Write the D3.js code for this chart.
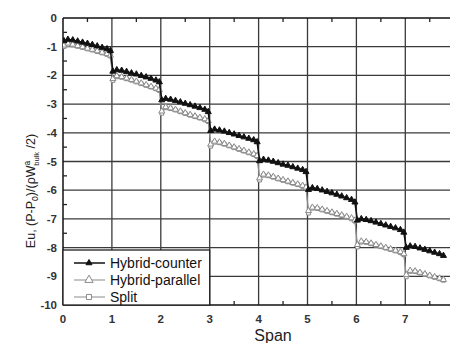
<!DOCTYPE html>
<html><head><meta charset="utf-8">
<script src="https://cdn.jsdelivr.net/npm/d3@7"></script>
<style>body{margin:0;background:#fff}svg{display:block}</style>
</head><body><svg id="c" width="450" height="343"></svg>
<script>
// Span positions (x) for each sampled point
const spanX = [
 0.02,0.1,0.2,0.3,0.4,0.5,0.6,0.7,0.8,0.9,0.97,
 1.02,1.1,1.2,1.3,1.4,1.5,1.6,1.7,1.8,1.9,1.97,
 2.02,2.1,2.2,2.3,2.4,2.5,2.6,2.7,2.8,2.9,2.97,
 3.02,3.1,3.2,3.3,3.4,3.5,3.6,3.7,3.8,3.9,3.97,
 4.02,4.1,4.2,4.3,4.4,4.5,4.6,4.7,4.8,4.9,4.97,
 5.02,5.1,5.2,5.3,5.4,5.5,5.6,5.7,5.8,5.9,5.97,
 6.02,6.1,6.2,6.3,6.4,6.5,6.6,6.7,6.8,6.9,6.97,
 7.02,7.1,7.2,7.3,7.4,7.5,7.6,7.7,7.78
];
const hybridCounter = [
 -0.80,-0.75,-0.77,-0.81,-0.85,-0.89,-0.93,-0.98,-1.03,-1.08,-1.14,
 -1.86,-1.81,-1.83,-1.87,-1.92,-1.96,-2.01,-2.06,-2.11,-2.17,-2.23,
 -2.86,-2.81,-2.84,-2.88,-2.93,-2.98,-3.03,-3.08,-3.13,-3.19,-3.27,
 -3.93,-3.88,-3.91,-3.95,-4.00,-4.05,-4.10,-4.15,-4.20,-4.25,-4.32,
 -4.98,-4.93,-4.96,-5.00,-5.05,-5.10,-5.14,-5.19,-5.24,-5.29,-5.36,
 -5.98,-5.92,-5.95,-6.00,-6.05,-6.10,-6.15,-6.21,-6.27,-6.33,-6.42,
 -7.05,-7.00,-7.03,-7.07,-7.12,-7.17,-7.22,-7.27,-7.32,-7.38,-7.47,
 -8.00,-7.95,-7.97,-8.02,-8.07,-8.12,-8.17,-8.22,-8.28,-8.32
];
const hybridParallel = [
 -0.95,-0.88,-0.92,-0.97,-1.01,-1.06,-1.10,-1.15,-1.20,-1.25,-1.30,
 -2.12,-2.02,-2.05,-2.10,-2.15,-2.21,-2.27,-2.33,-2.39,-2.45,-2.50,
 -3.25,-3.10,-3.14,-3.19,-3.25,-3.31,-3.37,-3.42,-3.47,-3.52,-3.58,
 -4.40,-4.30,-4.33,-4.38,-4.44,-4.50,-4.56,-4.62,-4.68,-4.74,-4.80,
 -5.58,-5.45,-5.48,-5.53,-5.59,-5.64,-5.69,-5.74,-5.79,-5.84,-5.90,
 -6.72,-6.60,-6.62,-6.67,-6.72,-6.77,-6.82,-6.87,-6.92,-6.97,-7.05,
 -7.90,-7.78,-7.80,-7.85,-7.90,-7.95,-8.00,-8.05,-8.10,-8.15,-8.22,
 -8.95,-8.80,-8.82,-8.87,-8.92,-8.97,-9.02,-9.07,-9.12,-9.17
];
const split = [
 -1.00,-0.92,-0.94,-0.99,-1.03,-1.08,-1.12,-1.17,-1.22,-1.27,-1.33,
 -2.18,-2.05,-2.07,-2.12,-2.17,-2.23,-2.29,-2.35,-2.41,-2.47,-2.53,
 -3.32,-3.13,-3.16,-3.21,-3.27,-3.33,-3.39,-3.44,-3.49,-3.55,-3.61,
 -4.47,-4.33,-4.35,-4.40,-4.46,-4.52,-4.58,-4.64,-4.70,-4.76,-4.83,
 -5.65,-5.48,-5.50,-5.55,-5.61,-5.66,-5.71,-5.76,-5.81,-5.87,-5.93,
 -6.80,-6.63,-6.64,-6.69,-6.74,-6.79,-6.84,-6.89,-6.94,-7.00,-7.08,
 -7.98,-7.81,-7.82,-7.87,-7.92,-7.97,-8.02,-8.07,-8.12,-8.18,-8.25,
 -9.02,-8.83,-8.84,-8.89,-8.94,-8.99,-9.04,-9.09,-9.14,-9.19
];
const xTicks = [0,1,2,3,4,5,6,7];
const yTicks = [0,-1,-2,-3,-4,-5,-6,-7,-8,-9,-10];
const seriesNames = ["Hybrid-counter","Hybrid-parallel","Split"];

const svg = d3.select("#c");
const L = 63, T = 18, B = 305;
const x = d3.scaleLinear().domain([0, 8]).range([L, L + 8 * 48.9]);
const y = d3.scaleLinear().domain([-10, 0]).range([B, T]);
const font = "'Liberation Sans', Arial, sans-serif";

// grid
const g = svg.append("g");
g.selectAll("line.vg").data(xTicks.slice(1).concat([8])).join("line")
  .attr("x1", d => x(d)).attr("x2", d => x(d)).attr("y1", T).attr("y2", B)
  .attr("stroke", "#3a3a3a").attr("stroke-width", 1.3);
g.selectAll("line.hg").data(yTicks.slice(1, -1)).join("line")
  .attr("x1", L).attr("x2", 450).attr("y1", d => y(d)).attr("y2", d => y(d))
  .attr("stroke", "#3a3a3a").attr("stroke-width", 1.3);

// frame
svg.append("line").attr("x1", L).attr("x2", 450).attr("y1", T).attr("y2", T).attr("stroke", "#111").attr("stroke-width", 1.5);
svg.append("line").attr("x1", L).attr("x2", 450).attr("y1", B).attr("y2", B).attr("stroke", "#111").attr("stroke-width", 1.5);
svg.append("line").attr("x1", L).attr("x2", L).attr("y1", T).attr("y2", B).attr("stroke", "#111").attr("stroke-width", 1.5);

// minor ticks (inward)
const xMinor = d3.range(0.5, 8, 1);
const yMinor = d3.range(-0.5, -10, -1);
svg.selectAll("line.tm").data(xMinor).join("line").attr("x1", d => x(d)).attr("x2", d => x(d))
  .attr("y1", T).attr("y2", T + 4).attr("stroke", "#222").attr("stroke-width", 1.3);
svg.selectAll("line.bm").data(xMinor).join("line").attr("x1", d => x(d)).attr("x2", d => x(d))
  .attr("y1", B).attr("y2", B - 4).attr("stroke", "#222").attr("stroke-width", 1.3);
svg.selectAll("line.lm").data(yMinor).join("line").attr("x1", L).attr("x2", L + 4)
  .attr("y1", d => y(d)).attr("y2", d => y(d)).attr("stroke", "#222").attr("stroke-width", 1.3);

// tick labels
svg.selectAll("text.xt").data(xTicks).join("text")
  .attr("x", d => x(d)).attr("y", 323).attr("text-anchor", "middle")
  .attr("font-family", font).attr("font-size", 11.5).attr("font-weight", "bold").attr("fill", "#333")
  .text(d => d);
svg.selectAll("text.yt").data(yTicks).join("text")
  .attr("x", 57).attr("y", d => y(d) + 4).attr("text-anchor", "end")
  .attr("font-family", font).attr("font-size", 11.5).attr("font-weight", "bold").attr("fill", "#333")
  .text(d => d);

// axis titles
svg.append("text").attr("x", 273).attr("y", 341).attr("text-anchor", "middle")
  .attr("font-family", font).attr("font-size", 16).attr("fill", "#222").text("Span");
const yl = svg.append("text").attr("transform", "translate(35,191) rotate(-90)")
  .attr("text-anchor", "middle").attr("font-family", font).attr("font-size", 12.5).attr("fill", "#222");
yl.append("tspan").text("Eu, (P-P");
yl.append("tspan").attr("font-size", 8.5).attr("dy", 3).text("0");
yl.append("tspan").attr("dy", -3).text(")/(ρW");
yl.append("tspan").attr("font-size", 8.5).attr("dy", -5).text("a");
yl.append("tspan").attr("font-size", 7.5).attr("dy", 9).attr("dx", -5).text("bulk");
yl.append("tspan").attr("dy", -4).text(" /2)");

// data
const clip = svg.append("clipPath").attr("id", "pc").append("rect")
  .attr("x", L).attr("y", T).attr("width", 450 - L).attr("height", B - T);
const plot = svg.append("g").attr("clip-path", "url(#pc)");
const mk = (vals) => spanX.map((v, i) => [v, vals[i]]);
const line = d3.line().x(d => x(d[0])).y(d => y(d[1]));
const tri = d3.symbol().type(d3.symbolTriangle).size(16);
const sq = d3.symbol().type(d3.symbolSquare).size(14);
const gray = "#8a8a8a";

function drawSeries(vals, color, sym, fill, width) {
  const pts = mk(vals);
  plot.append("path").datum(pts).attr("d", line).attr("fill", "none")
    .attr("stroke", color).attr("stroke-width", width);
  plot.selectAll(null).data(pts).join("path")
    .attr("transform", d => `translate(${x(d[0])},${y(d[1])})`)
    .attr("d", sym).attr("fill", fill).attr("stroke", color).attr("stroke-width", 1);
}
drawSeries(split, gray, sq, "#fff", 1);
drawSeries(hybridParallel, gray, tri, "#fff", 1);
drawSeries(hybridCounter, "#111", tri, "#111", 1.6);

// legend
const lg = svg.append("g");
lg.append("rect").attr("x", L).attr("y", 250).attr("width", x(3) - L).attr("height", B - 250)
  .attr("fill", "#fff").attr("stroke", "#222").attr("stroke-width", 1.3);
const legRows = [
  {name: seriesNames[0], color: "#111", sym: tri, fill: "#111", w: 1.5},
  {name: seriesNames[1], color: gray, sym: d3.symbol().type(d3.symbolTriangle).size(30), fill: "#fff", w: 1},
  {name: seriesNames[2], color: gray, sym: d3.symbol().type(d3.symbolSquare).size(26), fill: "#fff", w: 1}
];
legRows.forEach((r, i) => {
  const yy = 263 + i * 17;
  lg.append("line").attr("x1", 74).attr("x2", 105).attr("y1", yy).attr("y2", yy)
    .attr("stroke", r.color).attr("stroke-width", r.w);
  lg.append("path").attr("transform", `translate(89,${yy})`).attr("d", r.sym)
    .attr("fill", r.fill).attr("stroke", r.color).attr("stroke-width", 1);
  lg.append("text").attr("x", 110).attr("y", yy + 5).attr("font-family", font)
    .attr("font-size", 14).attr("fill", "#111").text(r.name);
});
</script></body></html>
